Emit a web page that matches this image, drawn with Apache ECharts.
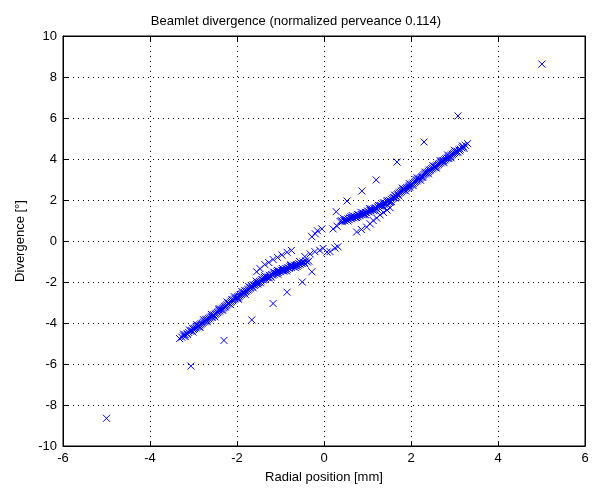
<!DOCTYPE html>
<html>
<head>
<meta charset="utf-8">
<script src="https://cdn.jsdelivr.net/npm/echarts@6/dist/echarts.min.js"></script>
<style>html,body{margin:0;padding:0;background:#fff}#c{width:592px;height:491px}</style>
</head>
<body>
<div id="c"></div>
<script>
const titleText = 'Beamlet divergence (normalized perveance 0.114)';
const xAxisName = 'Radial position [mm]';
const yAxisName = 'Divergence [°]';
const xTicks = [-6, -4, -2, 0, 2, 4, 6];
const yTicks = [-10, -8, -6, -4, -2, 0, 2, 4, 6, 8, 10];

const bandRight = [
[0.37,0.95],[0.40,0.99],[0.42,0.94],[0.45,1.01],[0.48,0.98],[0.50,1.05],[0.53,1.02],[0.55,1.08],[0.58,1.04],[0.60,1.12],
[0.63,1.09],[0.65,1.15],[0.68,1.13],[0.70,1.20],[0.72,1.16],[0.75,1.22],[0.78,1.19],[0.80,1.27],[0.83,1.24],[0.85,1.30],
[0.88,1.28],[0.90,1.36],[0.93,1.32],[0.95,1.40],[0.98,1.38],[1.00,1.46],[1.03,1.42],[1.05,1.50],[1.08,1.47],[1.10,1.55],
[1.13,1.51],[1.15,1.58],[1.18,1.62],[1.20,1.60],[1.23,1.67],[1.25,1.64],[1.28,1.71],[1.30,1.74],[1.33,1.70],[1.35,1.78],
[1.38,1.80],[1.40,1.85],[1.43,1.82],[1.45,1.90],[1.48,1.93],[1.50,1.98],[1.53,1.95],[1.55,2.03],[1.58,2.08],[1.60,2.12],
[1.63,2.10],[1.65,2.20],[1.68,2.26],[1.70,2.30],[1.73,2.34],[1.75,2.38],[1.78,2.42],[1.80,2.46],[1.83,2.48],[1.85,2.52],
[1.88,2.56],[1.90,2.60],[1.93,2.62],[1.95,2.68],[1.98,2.70],[2.00,2.75],[2.03,2.78],[2.05,2.82],[2.08,2.86],[2.10,2.90],
[2.13,2.93],[2.15,2.98],[2.18,3.02],[2.20,3.06],[2.23,3.10],[2.25,3.15],[2.28,3.18],[2.30,3.24],[2.33,3.27],[2.35,3.32],
[2.38,3.35],[2.40,3.40],[2.43,3.44],[2.45,3.48],[2.48,3.52],[2.50,3.56],[2.53,3.60],[2.55,3.63],[2.58,3.66],[2.60,3.71],
[2.63,3.74],[2.65,3.78],[2.68,3.81],[2.70,3.86],[2.73,3.89],[2.75,3.93],[2.78,3.96],[2.80,4.01],[2.83,4.04],[2.85,4.08],
[2.88,4.11],[2.90,4.16],[2.93,4.19],[2.95,4.23],[2.98,4.26],[3.00,4.31],[3.03,4.34],[3.06,4.38],[3.10,4.44],[3.13,4.48],
[3.17,4.54],[3.20,4.60],[3.25,4.67],[3.30,4.75],
[0.62,1.18],[0.77,1.30],[0.92,1.28],[1.07,1.56],[1.22,1.55],[1.37,1.86],[1.52,1.88],[1.67,2.14],[1.82,2.54],[1.97,2.62],
[2.12,2.98],[2.27,3.10],[2.42,3.46],[2.57,3.58],[2.72,3.92],[2.87,4.02],[3.02,4.38],[3.12,4.40],
[0.45,1.10],[0.55,0.98],[0.65,1.24],[0.75,1.14],[0.85,1.40],[0.95,1.30],[1.05,1.58],[1.15,1.48],[1.25,1.74],[1.35,1.66],
[1.45,1.98],[1.55,1.92],[1.62,2.24],[1.72,2.20],[1.80,2.58],[1.88,2.44],[1.96,2.80],[2.05,2.70],[2.14,3.08],[2.22,2.96],
[2.32,3.36],[2.40,3.28],[2.50,3.68],[2.58,3.56],[2.67,3.92],[2.76,3.82],[2.84,4.20],[2.92,4.06],[3.00,4.42],[3.08,4.32],
[3.18,4.64],[3.22,4.52]
];

const bandLeft = [
[-0.35,-0.98],[-0.38,-1.03],[-0.42,-0.97],[-0.45,-1.06],[-0.48,-1.02],[-0.50,-1.10],[-0.53,-1.07],[-0.55,-1.14],[-0.58,-1.10],[-0.60,-1.17],
[-0.63,-1.14],[-0.65,-1.21],[-0.68,-1.18],[-0.70,-1.25],[-0.73,-1.22],[-0.75,-1.29],[-0.78,-1.26],[-0.80,-1.33],[-0.83,-1.30],[-0.85,-1.37],
[-0.88,-1.34],[-0.90,-1.41],[-0.93,-1.38],[-0.95,-1.45],[-0.98,-1.42],[-1.00,-1.50],[-1.03,-1.47],[-1.05,-1.54],[-1.08,-1.51],[-1.10,-1.58],
[-1.13,-1.55],[-1.15,-1.62],[-1.18,-1.66],[-1.20,-1.64],[-1.23,-1.71],[-1.25,-1.68],[-1.28,-1.75],[-1.30,-1.79],[-1.33,-1.76],[-1.35,-1.83],
[-1.38,-1.86],[-1.40,-1.90],[-1.43,-1.88],[-1.45,-1.95],[-1.48,-1.98],[-1.50,-2.03],[-1.53,-2.01],[-1.55,-2.08],[-1.58,-2.12],[-1.60,-2.16],
[-1.63,-2.14],[-1.65,-2.22],[-1.68,-2.27],[-1.70,-2.31],[-1.73,-2.35],[-1.75,-2.39],[-1.78,-2.43],[-1.80,-2.47],[-1.83,-2.50],[-1.85,-2.54],
[-1.88,-2.57],[-1.90,-2.61],[-1.93,-2.64],[-1.95,-2.69],[-1.98,-2.71],[-2.00,-2.76],[-2.03,-2.79],[-2.05,-2.83],[-2.08,-2.87],[-2.10,-2.91],
[-2.13,-2.94],[-2.15,-2.99],[-2.18,-3.03],[-2.20,-3.07],[-2.23,-3.11],[-2.25,-3.16],[-2.28,-3.19],[-2.30,-3.25],[-2.33,-3.28],[-2.35,-3.33],
[-2.38,-3.36],[-2.40,-3.41],[-2.43,-3.45],[-2.45,-3.49],[-2.48,-3.53],[-2.50,-3.57],[-2.53,-3.61],[-2.55,-3.64],[-2.58,-3.67],[-2.60,-3.72],
[-2.63,-3.75],[-2.65,-3.79],[-2.68,-3.82],[-2.70,-3.87],[-2.73,-3.90],[-2.75,-3.94],[-2.78,-3.97],[-2.80,-4.02],[-2.83,-4.05],[-2.85,-4.09],
[-2.88,-4.12],[-2.90,-4.17],[-2.93,-4.20],[-2.95,-4.24],[-2.98,-4.27],[-3.00,-4.32],[-3.04,-4.36],[-3.07,-4.40],[-3.11,-4.46],[-3.15,-4.51],
[-3.19,-4.57],[-3.23,-4.63],[-3.27,-4.69],[-3.32,-4.76],
[-0.62,-1.24],[-0.77,-1.20],[-0.92,-1.46],[-1.07,-1.44],[-1.22,-1.76],[-1.37,-1.78],[-1.52,-2.10],[-1.67,-2.18],[-1.82,-2.42],[-1.97,-2.78],
[-2.12,-2.85],[-2.27,-3.22],[-2.42,-3.36],[-2.57,-3.72],[-2.72,-3.82],[-2.87,-4.16],[-3.02,-4.26],[-3.14,-4.56],
[-0.44,-1.12],[-0.56,-1.00],[-0.66,-1.30],[-0.76,-1.16],[-0.86,-1.46],[-0.96,-1.34],[-1.06,-1.62],[-1.16,-1.52],[-1.26,-1.80],[-1.36,-1.70],
[-1.46,-2.04],[-1.56,-1.96],[-1.63,-2.28],[-1.73,-2.22],[-1.81,-2.60],[-1.89,-2.46],[-1.97,-2.84],[-2.06,-2.72],[-2.15,-3.10],[-2.23,-2.98],
[-2.33,-3.38],[-2.41,-3.30],[-2.51,-3.70],[-2.59,-3.58],[-2.68,-3.94],[-2.77,-3.84],[-2.85,-4.22],[-2.93,-4.08],[-3.01,-4.44],[-3.09,-4.34],
[-3.19,-4.66],[-3.23,-4.54]
];

const secondaryRight = [
[0.75,0.44],[0.86,0.56],[0.98,0.68],[1.06,0.84],[1.13,1.00],[1.21,1.12],[1.29,1.27],[1.37,1.39],[1.45,1.51],[1.52,1.62]
];
const secondaryLeft = [
[-0.75,-0.46],[-0.85,-0.55],[-0.97,-0.68],[-1.07,-0.80],[-1.17,-0.90],[-1.27,-1.05],[-1.36,-1.15],[-1.47,-1.35],[-1.55,-1.50]
];
const centerUpper = [
[-0.28,0.21],[-0.20,0.35],[-0.15,0.50],[-0.05,0.59],[0.21,0.59],[0.30,0.72]
];
const centerLower = [
[-0.44,-0.76],[-0.32,-0.63],[-0.21,-0.52],[-0.10,-0.45],[-0.02,-0.36],[0.07,-0.54],[0.14,-0.52],[0.25,-0.34],[0.32,-0.28]
];
const outliers = [
[0.28,1.43],[0.53,1.95],[0.87,2.44],[1.20,2.98],[1.68,3.85],[2.30,4.83],[3.08,6.10],[5.01,8.63],
[-0.28,-1.50],[-0.50,-2.00],[-0.85,-2.50],[-1.17,-3.05],[-1.66,-3.85],[-2.30,-4.85],[-3.06,-6.10],[-5.00,-8.65]
];

const allPoints = [].concat(bandRight, bandLeft, secondaryRight, secondaryLeft, centerUpper, centerLower, outliers);

const font = 'Liberation Sans, Arial, Helvetica, sans-serif';
const chart = echarts.init(document.getElementById('c'), null, {renderer: 'canvas'});
const dotted = {show: true, lineStyle: {color: '#000', type: [1, 4], width: 1}};
const tickInside = {show: true, inside: true, length: 5, lineStyle: {color: '#000'}};
chart.setOption({
  animation: false,
  backgroundColor: '#fff',
  title: {
    text: titleText, left: 'center', top: 10,
    textStyle: {fontSize: 13, fontWeight: 'normal', color: '#000', fontFamily: font}
  },
  grid: {left: 63, right: 7, top: 36, bottom: 45, show: true, borderColor: '#000', borderWidth: 1, backgroundColor: '#fff'},
  xAxis: [{
    type: 'value', min: xTicks[0], max: xTicks[xTicks.length - 1], interval: 2, position: 'bottom',
    name: xAxisName, nameLocation: 'middle', nameGap: 25,
    nameTextStyle: {fontSize: 13, color: '#000', fontFamily: font},
    axisLine: {show: true, onZero: false, lineStyle: {color: '#000'}},
    axisTick: tickInside,
    axisLabel: {color: '#000', fontSize: 13, fontFamily: font, margin: 6},
    splitLine: dotted
  }, {
    type: 'value', min: xTicks[0], max: xTicks[xTicks.length - 1], interval: 2, position: 'top',
    axisLine: {show: true, onZero: false, lineStyle: {color: '#000'}},
    axisTick: tickInside, axisLabel: {show: false}, splitLine: {show: false}
  }],
  yAxis: [{
    type: 'value', min: yTicks[0], max: yTicks[yTicks.length - 1], interval: 2, position: 'left',
    name: yAxisName, nameLocation: 'middle', nameGap: 34, nameRotate: 90,
    nameTextStyle: {fontSize: 13, color: '#000', fontFamily: font},
    axisLine: {show: true, onZero: false, lineStyle: {color: '#000'}},
    axisTick: tickInside,
    axisLabel: {color: '#000', fontSize: 13, fontFamily: font, margin: 6},
    splitLine: dotted
  }, {
    type: 'value', min: yTicks[0], max: yTicks[yTicks.length - 1], interval: 2, position: 'right',
    axisLine: {show: true, onZero: false, lineStyle: {color: '#000'}},
    axisTick: tickInside, axisLabel: {show: false}, splitLine: {show: false}
  }],
  series: [{
    type: 'scatter',
    xAxisIndex: 0, yAxisIndex: 0,
    data: allPoints,
    symbol: 'path://M0,0L10,10M10,0L0,10',
    symbolSize: 7,
    itemStyle: {color: 'rgba(0,0,0,0)', borderColor: '#0000ff', borderWidth: 1, opacity: 1},
    emphasis: {disabled: true},
    silent: true
  }]
});
</script>
</body>
</html>
